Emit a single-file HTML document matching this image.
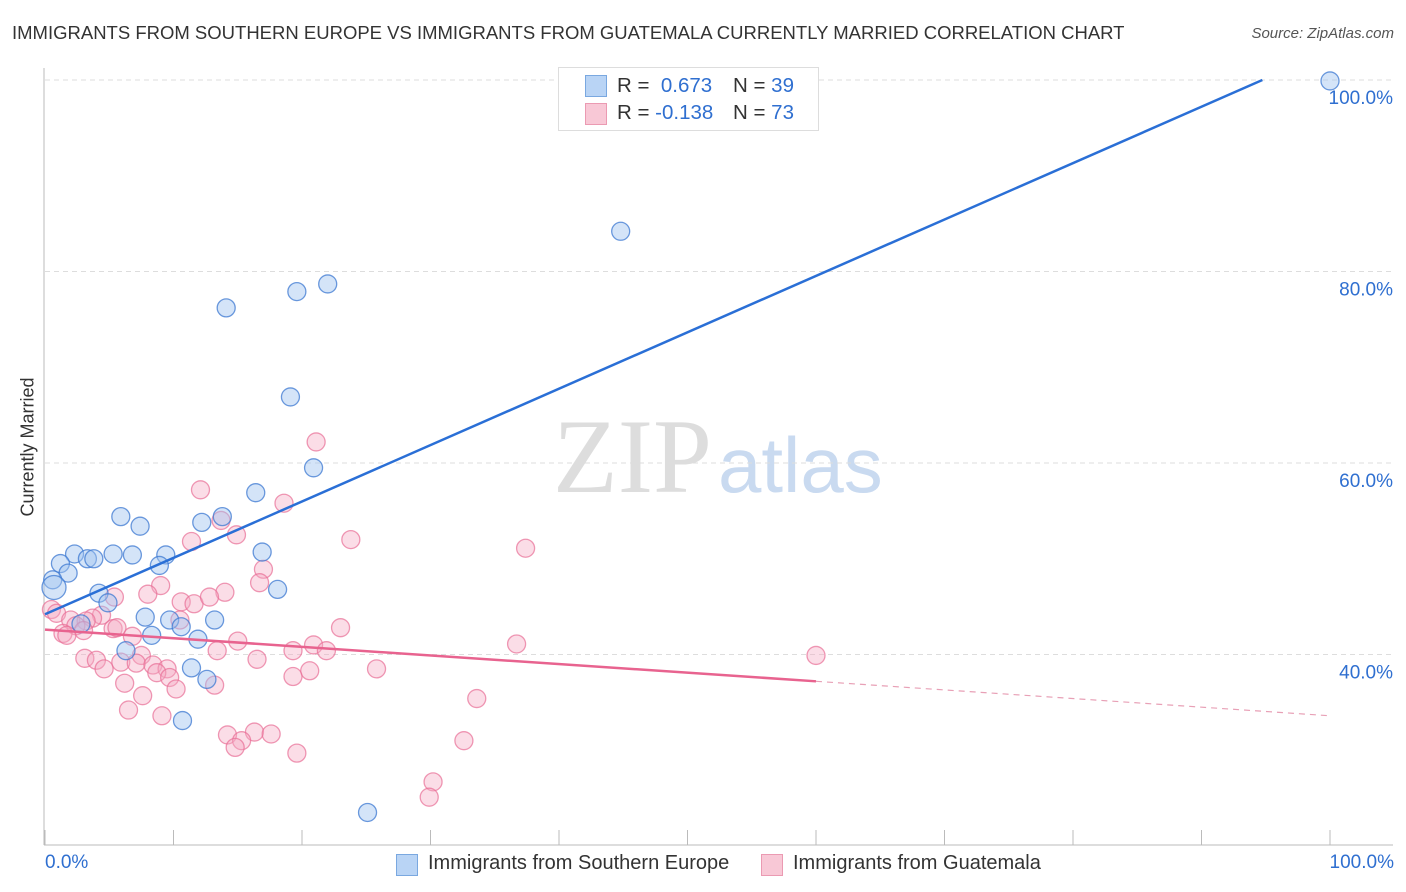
<!DOCTYPE html>
<html><head><meta charset="utf-8"><style>
body{margin:0;width:1406px;height:892px;background:#fff;font-family:"Liberation Sans",sans-serif;overflow:hidden;position:relative}
.t{position:absolute;white-space:nowrap}
</style></head><body>
<div class="t" style="left:12px;top:22px;font-size:18.5px;color:#333">IMMIGRANTS FROM SOUTHERN EUROPE VS IMMIGRANTS FROM GUATEMALA CURRENTLY MARRIED CORRELATION CHART</div>
<div class="t" style="right:12px;top:25px;font-size:15px;color:#555;font-style:italic">Source: ZipAtlas.com</div>
<svg id="c" width="1406" height="892" style="position:absolute;left:0;top:0">
<text x="553" y="492" font-family="Liberation Serif" font-size="106" fill="#ddd">ZIP</text>
<text x="718" y="492" font-family="Liberation Sans" font-size="78" fill="#c9daf0">atlas</text>
</svg>
<div class="t" style="left:-34px;top:444px;font-size:18px;color:#333;transform:rotate(-90deg);transform-origin:center;width:124px;text-align:center">Currently Married</div>
<div style="position:absolute;left:558px;top:67px;width:259px;height:62px;border:1px solid #ddd;background:#fff;font-size:20.5px;color:#333">
<div style="position:absolute;left:26px;top:7px;width:20px;height:20px;background:#b9d4f5;border:1px solid #7aa8e0"></div>
<div class="t" style="left:58px;top:6px">R = &nbsp;<span style="color:#2f6fd0">0.673</span></div>
<div class="t" style="left:174px;top:6px">N = <span style="color:#2f6fd0">39</span></div>
<div style="position:absolute;left:26px;top:35px;width:20px;height:20px;background:#f8c8d6;border:1px solid #eb9ab2"></div>
<div class="t" style="left:58px;top:33px">R = <span style="color:#2f6fd0">-0.138</span></div>
<div class="t" style="left:174px;top:33px">N = <span style="color:#2f6fd0">73</span></div>
</div>
<div class="t" style="left:45px;top:852px;font-size:19px;color:#2f6fd0">0.0%</div>
<div class="t" style="right:12px;top:852px;font-size:19px;color:#2f6fd0">100.0%</div>
<div>
<div style="position:absolute;left:396px;top:854px;width:20px;height:20px;background:#b9d4f5;border:1px solid #7aa8e0"></div>
<div class="t" style="left:428px;top:852px;font-size:20px;color:#333">Immigrants from Southern Europe</div>
<div style="position:absolute;left:761px;top:854px;width:20px;height:20px;background:#f8c8d6;border:1px solid #eb9ab2"></div>
<div class="t" style="left:793px;top:852px;font-size:20px;color:#333">Immigrants from Guatemala</div>
</div>
<script>
const yTicks=[100,80,60,40];
const yTickLabels=["100.0%","80.0%","60.0%","40.0%"];
const blueX=[100,44.8,22.0,19.6,14.1,19.1,20.9,16.4,5.9,13.8,12.2,7.4,2.3,5.3,6.8,9.4,16.9,3.3,3.8,1.2,8.9,1.8,0.6,0.7,18.1,4.2,4.9,7.8,9.7,13.2,2.8,10.6,8.3,11.9,6.3,11.4,12.6,10.7,25.1];
const blueY=[99.9,84.2,78.7,77.9,76.2,66.9,59.5,56.9,54.4,54.4,53.8,53.4,50.5,50.5,50.4,50.4,50.7,50.0,50.0,49.5,49.3,48.5,47.8,47.0,46.8,46.4,45.4,43.9,43.6,43.6,43.2,42.9,42.0,41.6,40.4,38.6,37.4,33.1,23.5];
const pinkX=[21.1,12.1,18.6,13.7,14.9,23.8,11.4,37.4,9.0,17.0,16.7,8.0,14.0,5.4,10.6,11.6,12.8,0.5,0.9,4.4,3.7,2.0,3.2,10.5,2.4,3.0,5.3,5.6,23.0,1.4,1.7,6.8,15.0,36.7,20.9,21.9,19.3,13.4,7.5,60.0,3.1,4.0,5.9,7.1,16.5,8.4,9.5,4.6,25.8,8.7,20.6,19.3,9.7,6.2,10.2,13.2,7.6,33.6,6.5,9.1,14.2,16.3,17.6,15.3,14.8,32.6,19.6,30.2,29.9];
const pinkY=[62.2,57.2,55.8,54.0,52.5,52.0,51.8,51.1,47.2,48.9,47.5,46.3,46.5,46.0,45.5,45.3,46.0,44.7,44.3,44.1,43.8,43.6,43.5,43.6,43.0,42.5,42.7,42.8,42.8,42.2,42.0,41.9,41.4,41.1,41.0,40.4,40.4,40.4,39.9,39.9,39.6,39.4,39.2,39.1,39.5,38.9,38.5,38.5,38.5,38.1,38.3,37.7,37.6,37.0,36.4,36.8,35.7,35.4,34.2,33.6,31.6,31.9,31.7,31.0,30.3,31.0,29.7,26.7,25.1];
const blueLine=[44.2,0.589];   // intercept, slope
const pinkLine=[42.6,-0.09];
const pinkSolidEnd=60;
const NS="http://www.w3.org/2000/svg";
const svg=document.getElementById('c');
const X=v=>45+v*12.85;
const Y=v=>80+(100-v)*9.575;
function mk(tag,attrs,parent){const e=document.createElementNS(NS,tag);for(const k in attrs)e.setAttribute(k,attrs[k]);(parent||svg).appendChild(e);return e;}
yTicks.forEach((t,i)=>{
 const g=mk('line',{x1:45,x2:1393,y1:Y(t),y2:Y(t),stroke:'#ddd','stroke-dasharray':'5,4'});
 
 
 const l=mk('text',{x:1393,y:Y(t)+24,'text-anchor':'end','font-size':19,fill:'#2f6fd0','font-family':'Liberation Sans'});
 l.textContent=yTickLabels[i];
 
 
});
const ax=mk('line',{x1:44,x2:44,y1:68,y2:845,stroke:'#bbb'});


const bx=mk('line',{x1:44,x2:1393,y1:845,y2:845,stroke:'#bbb'});


for(let i=0;i<=10;i++){
 const tk=mk('line',{x1:X(i*10),x2:X(i*10),y1:830,y2:845,stroke:'#bbb'});
 
 
}
function dot(x,y,fill,stroke,name,r){
 const c=mk('circle',{cx:X(x),cy:Y(y),r:r||9,fill:fill,stroke:stroke,'stroke-width':1.3});
 
 
}
pinkX.forEach((x,i)=>dot(x,pinkY[i],'rgba(246,170,195,0.4)','rgba(232,110,150,0.7)','point-guatemala'));
blueX.forEach((x,i)=>dot(x,blueY[i],'rgba(160,195,240,0.45)','rgba(60,120,210,0.75)','point-southern-europe',i==23?12:9));
const bxEnd=Math.min(100,(100-blueLine[0])/blueLine[1]);
const bl=mk('line',{x1:X(0),y1:Y(blueLine[0]),x2:X(bxEnd),y2:Y(blueLine[0]+blueLine[1]*bxEnd),stroke:'#2a6fd6','stroke-width':2.5});


const pl=mk('line',{x1:X(0),y1:Y(pinkLine[0]),x2:X(pinkSolidEnd),y2:Y(pinkLine[0]+pinkLine[1]*pinkSolidEnd),stroke:'#e8638f','stroke-width':2.5});


const pd=mk('line',{x1:X(pinkSolidEnd),y1:Y(pinkLine[0]+pinkLine[1]*pinkSolidEnd),x2:X(100),y2:Y(pinkLine[0]+pinkLine[1]*100),stroke:'#e8a0b6','stroke-width':1.2,'stroke-dasharray':'6,5'});


</script>
</body></html>
